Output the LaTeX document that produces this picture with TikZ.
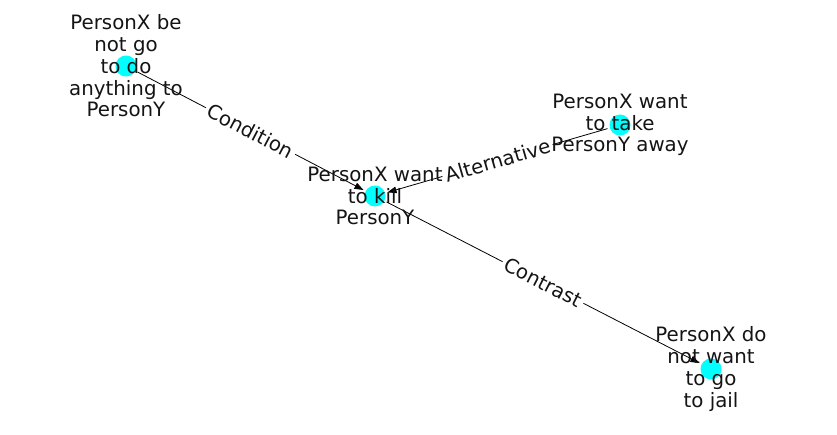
\documentclass[tikz,border=0pt]{standalone}
\usepackage{fontspec}
\setmainfont{DejaVu Sans}
\usetikzlibrary{arrows.meta}
\definecolor{nodecyan}{RGB}{0,255,255}

\tikzset{
  dot/.style={circle, fill=nodecyan, draw=none, minimum size=21pt, inner sep=0pt, outer sep=2.5pt},
  txt/.style={align=center, inner sep=0pt, text=black!92, font=\fontsize{19.8}{21.7}\selectfont},
  rel/.style={midway, sloped, fill=white, inner sep=3pt, text=black!92, font=\fontsize{19.8}{21.7}\selectfont},
  link/.style={line width=0.8pt, -{Triangle[length=9pt, width=6.5pt]}}
}

\begin{document}
\begin{tikzpicture}[x=1pt, y=1pt]
\useasboundingbox (0, 0) rectangle (837, 434);
%Nodes
\node [dot] (nothing) at (126, 368) {};
\node [dot] (kill) at (375, 238) {};
\node [dot] (take) at (620, 309) {};
\node [dot] (jail) at (711, 65) {};
%Edges
\draw [link] (nothing) -- (kill) node [rel] {Condition};
\draw [link] (take) -- (kill) node [rel] {Alternative};
\draw [link] (kill) -- (jail) node [rel] {Contrast};
%Text
\node [txt] at (nothing) {PersonX be\\not go\\to do\\anything to\\PersonY};
\node [txt] at (kill) {PersonX want\\to kill\\PersonY};
\node [txt] at (take) {PersonX want\\to take\\PersonY away};
\node [txt] at (jail) {PersonX do\\not want\\to go\\to jail};
\end{tikzpicture}
\end{document}
